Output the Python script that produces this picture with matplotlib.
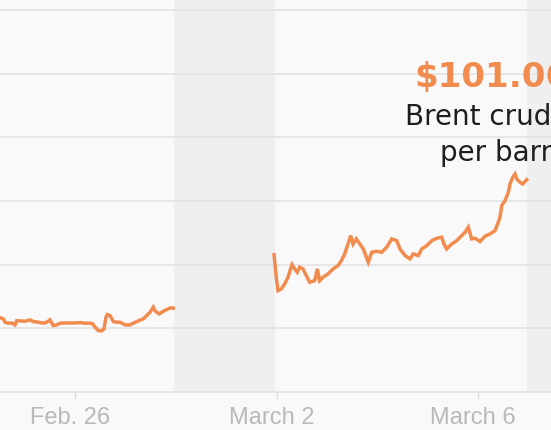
import matplotlib
matplotlib.use("Agg")
import matplotlib.pyplot as plt
import matplotlib.transforms as mtransforms

# Days since Feb 26 (00:00) and Brent price, USD/barrel
week1_days = [-1.488, -1.422, -1.389, -1.323, -1.256, -1.19, -1.157, -1.091, -0.992, -0.892,
              -0.827, -0.728, -0.661, -0.595, -0.530, -0.496, -0.430, -0.363, -0.298, -0.198,
              -0.099, 0.0, 0.099, 0.198, 0.298, 0.351, 0.397, 0.462, 0.530, 0.575,
              0.615, 0.641, 0.694, 0.760, 0.827, 0.893, 0.992, 1.091, 1.157, 1.224,
              1.289, 1.355, 1.422, 1.488, 1.553, 1.587, 1.621, 1.672, 1.752, 1.819,
              1.885, 1.95]
week1_price = [90.84, 90.74, 90.48, 90.40, 90.42, 90.27, 90.60, 90.58, 90.56, 90.66,
               90.53, 90.48, 90.42, 90.42, 90.56, 90.66, 90.21, 90.27, 90.40, 90.42,
               90.42, 90.42, 90.45, 90.40, 90.40, 90.35, 90.09, 89.82, 89.80, 89.95,
               90.87, 91.08, 91.00, 90.53, 90.48, 90.48, 90.27, 90.27, 90.40, 90.53,
               90.64, 90.74, 91.00, 91.26, 91.66, 91.39, 91.26, 91.13, 91.34, 91.47,
               91.60, 91.58]

week2_days = [3.948, 3.973, 3.993, 4.027, 4.092, 4.160, 4.225, 4.305, 4.358, 4.410,
              4.457, 4.523, 4.588, 4.656, 4.755, 4.807, 4.854, 4.920, 5.019, 5.118,
              5.217, 5.283, 5.350, 5.416, 5.469, 5.515, 5.580, 5.719, 5.818, 5.886,
              5.985, 6.084, 6.183, 6.283, 6.382, 6.447, 6.546, 6.645, 6.711, 6.810,
              6.878, 6.977, 7.076, 7.175, 7.274, 7.320, 7.373, 7.473, 7.572, 7.671,
              7.737, 7.802, 7.869, 7.935, 8.034, 8.133, 8.233, 8.332, 8.397, 8.431,
              8.465, 8.530, 8.596, 8.630, 8.683, 8.729, 8.762, 8.828, 8.881, 8.961]
week2_price = [95.78, 94.80, 94.01, 92.96, 93.09, 93.49, 94.01, 95.00, 94.66, 94.40,
               94.80, 94.66, 94.14, 93.62, 93.74, 94.66, 93.74, 94.01, 94.27, 94.66,
               94.92, 95.31, 95.84, 96.62, 97.28, 96.62, 97.02, 96.23, 95.19, 95.97,
               96.05, 95.97, 96.37, 97.02, 96.88, 96.23, 95.71, 95.45, 95.84, 95.71,
               96.23, 96.49, 96.88, 97.07, 97.15, 96.62, 96.23, 96.62, 96.88, 97.28,
               97.54, 97.94, 97.02, 97.07, 96.81, 97.23, 97.41, 97.67, 98.33, 98.72,
               99.63, 100.02, 100.68, 101.33, 101.86, 102.12, 101.73, 101.47, 101.33, 101.67]

weekends = [(1.96, 3.96), (8.96, 10.96)]
tick_days = [0, 4, 8]
tick_labels = ["Feb. 26", "March 2", "March 6"]
grid_levels = [85, 90, 95, 100, 105, 110, 115]
last_label = "$101.06"
desc_lines = ["Brent crude", "per barrel"]

ORANGE = "#f28b4e"
BG = "#f9f9f9"

W, H = 551, 431
fig = plt.figure(figsize=(W / 100, H / 100), dpi=100, facecolor=BG)
ax = fig.add_axes([0, (H - 393) / H, 1, 393 / H])
ax.set_facecolor(BG)

px_per_day = 50.41
ax.set_xlim(-75 / px_per_day, (W - 75) / px_per_day)
ax.set_ylim(85, 100 + 202 / 12.74)

for a, b in weekends:
    ax.axvspan(a, b, color="#efefef", lw=0, zorder=0.2)

for g in grid_levels[1:]:
    ax.axhline(g, color="#e5e5e5", lw=1.3, zorder=0.5)

ax.plot(week1_days, week1_price, color=ORANGE, lw=2.5, solid_joinstyle="miter", zorder=3)
ax.plot(week2_days, week2_price, color=ORANGE, lw=2.5, solid_joinstyle="miter", zorder=3)

for s in ["top", "right", "left"]:
    ax.spines[s].set_visible(False)
ax.spines["bottom"].set_color("#e3e3e3")
ax.spines["bottom"].set_linewidth(1.3)
ax.set_yticks([])
ax.set_xticks(tick_days)
ax.set_xticklabels(tick_labels, fontfamily="Liberation Sans", fontsize=17, color="#b9b9b9")
ax.tick_params(axis="x", length=5, width=1, color="#dcdcdc", pad=5)
offset = mtransforms.ScaledTranslation(-5 / 100, 0, fig.dpi_scale_trans)
for lbl in ax.get_xticklabels():
    lbl.set_transform(lbl.get_transform() + offset)

fig.text(414 / W, 1 - 87 / H, last_label, fontfamily="DejaVu Sans", fontweight="bold",
         fontsize=24.5, color=ORANGE, ha="left", va="baseline")
fig.text(405 / W, 1 - 125 / H, desc_lines[0], fontfamily="DejaVu Sans",
         fontsize=20, color="#1e1e1e", ha="left", va="baseline")
fig.text(440 / W, 1 - 161 / H, desc_lines[1], fontfamily="DejaVu Sans",
         fontsize=20, color="#1e1e1e", ha="left", va="baseline")

fig.savefig("out.png", dpi=100, facecolor=BG)
